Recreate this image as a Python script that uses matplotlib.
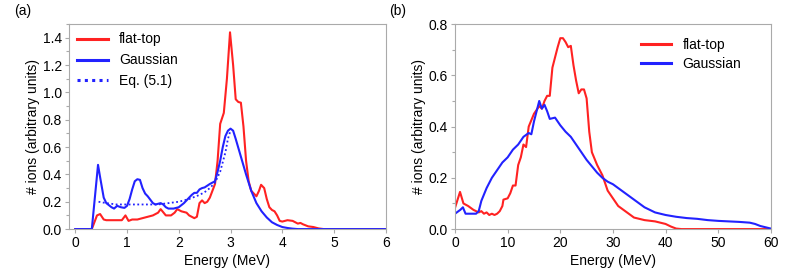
import numpy as np
from matplotlib import pyplot as plt
from matplotlib.ticker import MultipleLocator

plt.rcParams['font.family'] = ['Liberation Sans', 'DejaVu Sans']
plt.rcParams['font.size'] = 10

# panel (a), energies in MeV
ea_flat = [0, 0.32, 0.42, 0.48, 0.55, 0.6, 0.75, 0.9, 0.97, 1.03, 1.1, 1.2, 1.3, 1.4, 1.5, 1.6,
           1.65, 1.75, 1.85, 1.92, 1.97, 2.05, 2.15, 2.2, 2.3, 2.35, 2.4, 2.45, 2.5, 2.55, 2.6,
           2.7, 2.75, 2.8, 2.87, 2.93, 2.99, 3.05, 3.1, 3.15, 3.2, 3.25, 3.3, 3.35, 3.4, 3.5,
           3.55, 3.59, 3.65, 3.7, 3.75, 3.8, 3.85, 3.9, 3.95, 4.0, 4.1, 4.2, 4.3, 4.35, 4.4,
           4.5, 4.6, 4.7, 4.8, 6.0]
ya_flat = [0, 0, 0.1, 0.11, 0.07, 0.065, 0.065, 0.065, 0.1, 0.06, 0.07, 0.07, 0.08, 0.09, 0.1, 0.12,
           0.146, 0.1, 0.1, 0.12, 0.146, 0.13, 0.12, 0.1, 0.08, 0.09, 0.19, 0.21, 0.19, 0.2, 0.23,
           0.33, 0.5, 0.77, 0.85, 1.1, 1.44, 1.2, 0.95, 0.93, 0.925, 0.75, 0.5, 0.35, 0.28, 0.24,
           0.28, 0.324, 0.3, 0.22, 0.16, 0.14, 0.13, 0.1, 0.06, 0.055, 0.065, 0.06, 0.04, 0.045, 0.035,
           0.02, 0.015, 0.005, 0, 0]

ea_gauss = [0, 0.32, 0.44, 0.48, 0.55, 0.6, 0.7, 0.75, 0.81, 0.88, 0.95, 1.0, 1.05, 1.1, 1.15, 1.2,
            1.25, 1.3, 1.35, 1.4, 1.5, 1.55, 1.6, 1.65, 1.7, 1.75, 1.8, 1.9, 2.0, 2.1, 2.2, 2.25,
            2.3, 2.35, 2.4, 2.45, 2.5, 2.6, 2.7, 2.75, 2.8, 2.85, 2.9, 2.95, 3.0, 3.05, 3.1, 3.2,
            3.3, 3.4, 3.5, 3.6, 3.7, 3.8, 3.9, 4.0, 4.1, 4.2, 4.3, 6.0]
ya_gauss = [0, 0, 0.47, 0.38, 0.23, 0.19, 0.16, 0.15, 0.17, 0.16, 0.155, 0.17, 0.22, 0.29, 0.35, 0.365,
            0.36, 0.3, 0.26, 0.24, 0.19, 0.18, 0.185, 0.19, 0.18, 0.16, 0.15, 0.15, 0.16, 0.19, 0.23, 0.25,
            0.265, 0.265, 0.29, 0.3, 0.305, 0.33, 0.35, 0.42, 0.5, 0.6, 0.68, 0.72, 0.735, 0.72, 0.66, 0.53,
            0.4, 0.28, 0.19, 0.13, 0.085, 0.05, 0.03, 0.015, 0.008, 0.003, 0, 0]

ea_eq = [0.45, 0.6, 0.8, 1.0, 1.2, 1.4, 1.6, 1.8, 2.0, 2.2, 2.4, 2.5, 2.6, 2.7, 2.8, 2.9, 2.95, 2.99]
ya_eq = [0.2, 0.19, 0.18, 0.18, 0.18, 0.18, 0.18, 0.19, 0.2, 0.22, 0.25, 0.27, 0.3, 0.34, 0.42, 0.56, 0.66, 0.71]

# panel (b)
eb_flat = [0, 0.95, 1.6, 2.5, 3.5, 4, 4.5, 5, 5.5, 6, 6.5, 7, 7.5, 8, 8.5, 9, 9.2, 10, 10.5, 11,
           11.5, 12, 12.5, 13, 13.5, 14, 15, 16, 16.5, 17, 17.5, 18, 18.5, 19, 19.5, 20, 20.5, 21,
           21.5, 22, 22.5, 23, 23.5, 24, 24.5, 25, 25.5, 26, 27, 28, 29, 30, 31, 32, 33, 34, 35,
           36, 38, 39, 40, 41, 42, 43, 60]
yb_flat = [0.083, 0.145, 0.1, 0.09, 0.075, 0.07, 0.065, 0.07, 0.06, 0.065, 0.055, 0.06, 0.055, 0.06, 0.07, 0.09, 0.115, 0.12, 0.14, 0.17,
           0.17, 0.25, 0.28, 0.33, 0.32, 0.4, 0.45, 0.48, 0.47, 0.5, 0.52, 0.52, 0.63, 0.67, 0.71, 0.745, 0.745, 0.73,
           0.71, 0.715, 0.64, 0.58, 0.53, 0.545, 0.545, 0.51, 0.38, 0.3, 0.25, 0.21, 0.15, 0.12, 0.09, 0.075, 0.06, 0.045, 0.04,
           0.035, 0.03, 0.025, 0.02, 0.01, 0.002, 0, 0]

eb_gauss = [0, 1, 1.5, 2, 3, 4, 4.5, 5, 6, 7, 8, 9, 10, 11, 12, 13, 14, 14.5, 15, 16, 16.5, 17,
            17.5, 18, 19, 20, 21, 22, 23, 24, 25, 26, 27, 28, 29, 30, 31, 32, 33, 34, 35, 36, 37,
            38, 39, 40, 42, 44, 46, 48, 50, 52, 54, 56, 57, 58, 59, 60]
yb_gauss = [0.06, 0.075, 0.085, 0.06, 0.06, 0.06, 0.07, 0.11, 0.16, 0.2, 0.23, 0.26, 0.28, 0.31, 0.33, 0.36, 0.375, 0.37, 0.42, 0.5, 0.47, 0.485,
            0.46, 0.43, 0.435, 0.405, 0.38, 0.36, 0.33, 0.3, 0.27, 0.245, 0.22, 0.2, 0.185, 0.175, 0.16, 0.145, 0.13, 0.115, 0.1, 0.085, 0.075,
            0.065, 0.06, 0.055, 0.048, 0.043, 0.04, 0.035, 0.032, 0.03, 0.028, 0.025, 0.02, 0.012, 0.007, 0.002]

red = '#ff2222'
blue = '#2222ff'

fig = plt.figure(figsize=(7.89, 2.77), dpi=100)
ax1 = fig.add_axes([0.0875, 0.173, 0.4015, 0.74])
ax2 = fig.add_axes([0.5767, 0.173, 0.4003, 0.74])

ax1.plot(ea_flat, ya_flat, color=red, lw=1.5, label='flat-top')
ax1.plot(ea_gauss, ya_gauss, color=blue, lw=1.5, label='Gaussian')
ax1.plot(ea_eq, ya_eq, color=blue, lw=1.3, ls=(0, (1, 1.4)), label='Eq. (5.1)')
ax1.set_xlim(-0.12, 6)
ax1.set_ylim(0, 1.5)
ax1.set_yticks(np.arange(0, 1.41, 0.2))
ax1.yaxis.set_minor_locator(MultipleLocator(0.1))
ax1.set_xticks(range(7))
ax1.set_xlabel('Energy (MeV)', labelpad=3)
ax1.set_ylabel('# ions (arbitrary units)', labelpad=2)
leg1 = ax1.legend(loc='upper left', frameon=False, handlelength=2.2, borderaxespad=0.2, labelspacing=0.5)
ax1.text(-0.12, 1.03, '(a)', transform=ax1.transAxes, ha='right', va='bottom', fontsize=10)

ax2.plot(eb_flat, yb_flat, color=red, lw=1.5, label='flat-top')
ax2.plot(eb_gauss, yb_gauss, color=blue, lw=1.5, label='Gaussian')
ax2.set_xlim(0, 60)
ax2.set_ylim(0, 0.8)
ax2.set_yticks(np.arange(0, 0.81, 0.2))
ax2.yaxis.set_minor_locator(MultipleLocator(0.1))
ax2.set_xticks(range(0, 61, 10))
ax2.set_xlabel('Energy (MeV)', labelpad=3)
ax2.set_ylabel('# ions (arbitrary units)', labelpad=2)
leg2 = ax2.legend(loc='upper right', frameon=False, handlelength=2.2, borderaxespad=0.6, labelspacing=0.35,
                  bbox_to_anchor=(0.95, 1.0))
ax2.text(-0.155, 1.03, '(b)', transform=ax2.transAxes, ha='right', va='bottom', fontsize=10)

for leg in (leg1, leg2):
    for ln in leg.get_lines():
        ln.set_linewidth(2.2)

for ax in (ax1, ax2):
    for s in ax.spines.values():
        s.set_color('#aaaaaa')
    ax.tick_params(which='both', color='#aaaaaa', length=3, width=0.8, pad=2)
    ax.tick_params(which='minor', length=2)

fig.savefig('out.png', dpi=100)
